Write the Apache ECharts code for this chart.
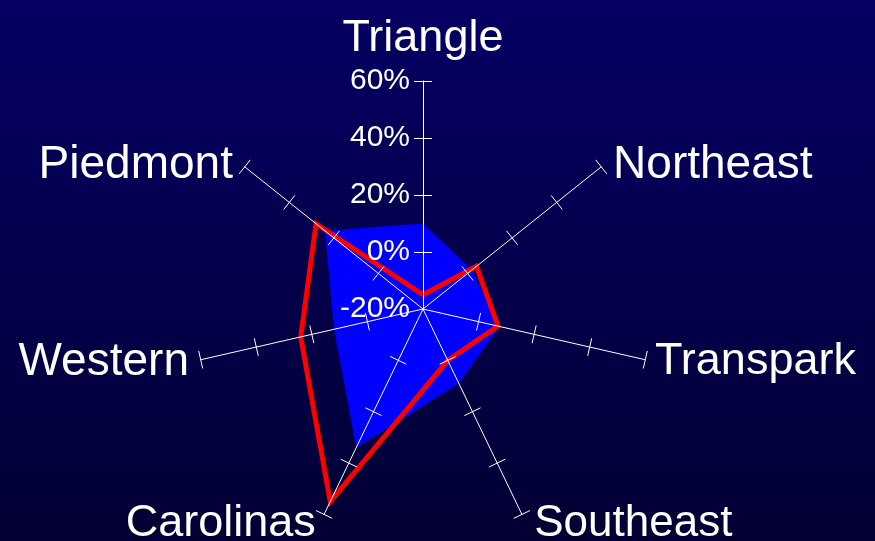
<!DOCTYPE html>
<html>
<head>
<meta charset="utf-8">
<script src="https://cdn.jsdelivr.net/npm/echarts@6/dist/echarts.min.js"></script>
<style>
html,body{margin:0;padding:0;width:875px;height:541px;overflow:hidden;}
#chart{width:875px;height:541px;background:linear-gradient(to bottom,#050063 0%,#04004a 55%,#020033 100%);}
</style>
</head>
<body>
<div id="chart"></div>
<script>
const categories = ['Triangle', 'Piedmont', 'Western', 'Carolinas', 'Southeast', 'Transpark', 'Northeast'];
const blueValues = [10, 24, 12, 34, 9, 7.5, 2];
const redValues = [-15, 28, 24, 55, 0, 7, 4];
const axisMin = -20;
const axisMax = 60;
const tickValues = [0, 20, 40, 60];

const chart = echarts.init(document.getElementById('chart'), null, {renderer: 'canvas'});
const FONT = '"Liberation Sans", Arial, sans-serif';
const CX = 423, CY = 309;
const RADIUS = 228;
const START = 90;
const TICK_LEN = 9;
const n = categories.length;

const indicators = categories.map(name => ({name: name, min: axisMin, max: axisMax}));

// small per-label nudges (font size, text box padding)
const nameStyle = {
  Triangle: {size: 45, pad: [0, 0, 10, 0]},
  Piedmont: {size: 46, pad: [10, 4, 0, 0]},
  Northeast: {size: 46, pad: [10, 0, 0, 4]},
  Western: {size: 46, pad: [0, 2, 0, 0]},
  Southeast: {size: 44, pad: [0, 0, 0, 8]},
  Carolinas: {size: 45, pad: [0, 4, 0, 0]},
  Transpark: {size: 45, pad: [0, 0, 0, 0]}
};
const richNames = {};
categories.forEach((c, i) => {
  const s = nameStyle[c];
  richNames['n' + i] = {color: '#ffffff', fontSize: s.size, fontFamily: FONT, padding: s.pad};
});

const blankRadar = {
  splitNumber: 4,
  axisName: {show: false},
  axisLine: {show: false},
  axisLabel: {show: false},
  splitLine: {show: false},
  splitArea: {show: false}
};

const radars = [
  {
    // main axes: lines, one half of the crossing ticks, names
    indicator: indicators,
    center: [CX, CY],
    radius: RADIUS,
    startAngle: START,
    splitNumber: 4,
    shape: 'polygon',
    z: 5,
    axisName: {
      color: '#ffffff', fontSize: 45, fontFamily: FONT,
      formatter: name => '{n' + categories.indexOf(name) + '|' + name + '}',
      rich: richNames
    },
    nameGap: 10,
    axisLine: {show: true, lineStyle: {color: '#ffffff', width: 1}},
    axisTick: {show: true, length: TICK_LEN, customValues: tickValues, lineStyle: {color: '#ffffff', width: 1}},
    axisLabel: {show: false},
    splitLine: {show: false},
    splitArea: {show: false}
  },
  Object.assign({}, blankRadar, {
    // tick labels along the Triangle axis only
    indicator: [{name: '', min: axisMin, max: axisMax}],
    center: [CX, CY],
    radius: RADIUS,
    startAngle: START,
    z: 6,
    axisTick: {show: false},
    axisLabel: {show: true, color: '#ffffff', fontSize: 30, fontFamily: FONT, margin: 13, formatter: '{value}%'}
  })
];

// other half of the crossing ticks: one reversed single-axis radar per spoke,
// anchored at the spoke end and pointing back to the centre
for (let k = 0; k < n; k++) {
  const a = (START + k * 360 / n) * Math.PI / 180;
  radars.push(Object.assign({}, blankRadar, {
    indicator: [{name: '', min: axisMin, max: axisMax}],
    center: [CX + RADIUS * Math.cos(a), CY - RADIUS * Math.sin(a)],
    radius: RADIUS,
    startAngle: (START + k * 360 / n + 180) % 360,
    z: 5,
    axisTick: {
      show: true, length: TICK_LEN,
      customValues: tickValues.map(v => axisMin + axisMax - v),
      lineStyle: {color: '#ffffff', width: 1}
    }
  }));
}

const option = {
  backgroundColor: 'transparent',
  animation: false,
  radar: radars,
  series: [
    {
      type: 'radar',
      radarIndex: 0,
      z: 2,
      symbol: 'none',
      data: [
        {
          value: blueValues,
          lineStyle: {width: 0, color: '#0000ff', opacity: 0},
          areaStyle: {color: '#0000ff', opacity: 1}
        },
        {
          value: redValues,
          lineStyle: {width: 5, color: '#ff0000', join: 'miter'},
          areaStyle: {opacity: 0}
        }
      ]
    }
  ]
};
chart.setOption(option);
</script>
</body>
</html>
